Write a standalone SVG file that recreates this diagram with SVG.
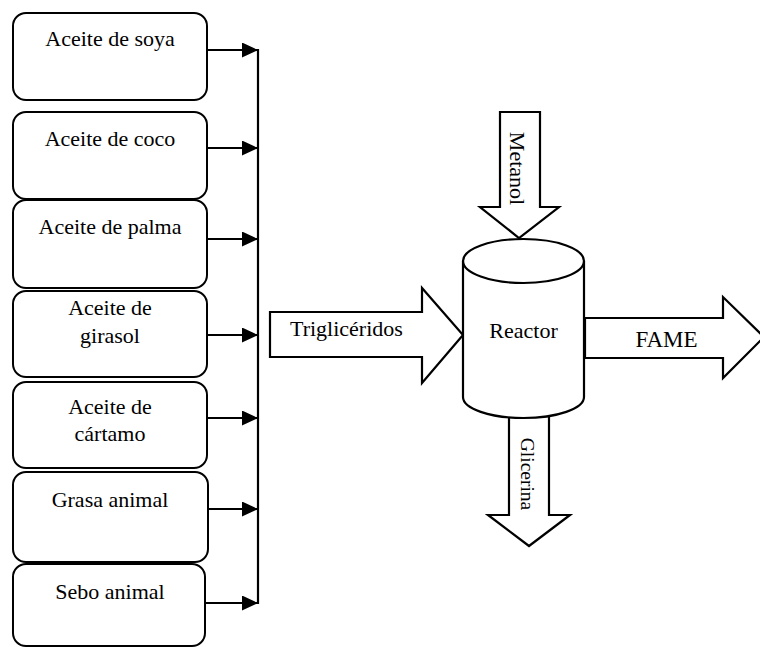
<svg xmlns="http://www.w3.org/2000/svg" width="760" height="647" viewBox="0 0 760 647">
<style>
.box{fill:#fff;stroke:#000;stroke-width:2}
.t{font-family:'Liberation Serif','Tinos','DejaVu Serif','Noto Serif',serif;font-size:22px;fill:#000;text-anchor:middle}
.conn{stroke:#000;stroke-width:2.2;fill:none}
.big{fill:#fff;stroke:#000;stroke-width:2.2;stroke-linejoin:miter}
</style>
<defs>
<marker id="ah" markerUnits="userSpaceOnUse" markerWidth="17" markerHeight="15" refX="16" refY="7.5" orient="auto">
<path d="M0,0 L16,7.5 L0,15 Z" fill="#000"/>
</marker>
</defs>
<rect width="760" height="647" fill="#fff"/>

<g id="n1"><rect class="box" x="13" y="13" width="194" height="87" rx="13"/><text class="t" x="110" y="46">Aceite de soya</text></g>
<g id="n2"><rect class="box" x="13" y="112" width="194" height="87" rx="13"/><text class="t" x="110" y="146">Aceite de coco</text></g>
<g id="n3"><rect class="box" x="13" y="200" width="194" height="88" rx="13"/><text class="t" x="110" y="234">Aceite de palma</text></g>
<g id="n4"><rect class="box" x="13" y="291" width="194" height="86" rx="13"/><text class="t" x="110" y="315">Aceite de</text><text class="t" x="110" y="343">girasol</text></g>
<g id="n5"><rect class="box" x="13" y="382" width="194" height="86" rx="13"/><text class="t" x="110" y="414">Aceite de</text><text class="t" x="110" y="441">cártamo</text></g>
<g id="n6"><rect class="box" x="13" y="472" width="195" height="90" rx="13"/><text class="t" x="110" y="507">Grasa animal</text></g>
<g id="n7"><rect class="box" x="13" y="564" width="192" height="82" rx="13"/><text class="t" x="110" y="599">Sebo animal</text></g>

<g id="connectors">
<line class="conn" x1="258" y1="49" x2="258" y2="604"/>
<line class="conn" x1="207" y1="50" x2="258" y2="50" marker-end="url(#ah)"/>
<line class="conn" x1="207" y1="148" x2="258" y2="148" marker-end="url(#ah)"/>
<line class="conn" x1="207" y1="239" x2="258" y2="239" marker-end="url(#ah)"/>
<line class="conn" x1="207" y1="335" x2="258" y2="335" marker-end="url(#ah)"/>
<line class="conn" x1="207" y1="418" x2="258" y2="418" marker-end="url(#ah)"/>
<line class="conn" x1="208" y1="509" x2="258" y2="509" marker-end="url(#ah)"/>
<line class="conn" x1="205" y1="603" x2="258" y2="603" marker-end="url(#ah)"/>
</g>

<g id="trigliceridos">
<polygon class="big" points="270,312 422,312 422,288 463,335 422,383 422,357 270,357"/>
<text class="t" x="290" y="336" style="text-anchor:start">Triglicéridos</text>
</g>

<g id="metanol">
<polygon class="big" points="500,112 540,112 540,207 559,207 519,238 480,207 500,207"/>
<text class="t" transform="translate(510,168.5) rotate(90)">Metanol</text>
</g>

<g id="glicerina">
<polygon class="big" points="509,405 509,515 488,515 529,546 570,515 549,515 549,405"/>
<text class="t" style="font-size:19.5px" transform="translate(521,474) rotate(90)">Glicerina</text>
</g>

<g id="fame">
<polygon class="big" points="585,318 723,318 723,297 764,337 723,378 723,358 585,358"/>
<text class="t" style="font-size:23px" x="666.5" y="347">FAME</text>
</g>

<g id="reactor">
<path class="big" d="M463,261 L463,397 A60.5,21 0 0 0 584,397 L584,261 A60.5,22 0 0 0 463,261 Z"/>
<path class="conn" d="M463,261 A60.5,22 0 0 0 584,261"/>
<text class="t" x="523.5" y="338">Reactor</text>
</g>
</svg>
